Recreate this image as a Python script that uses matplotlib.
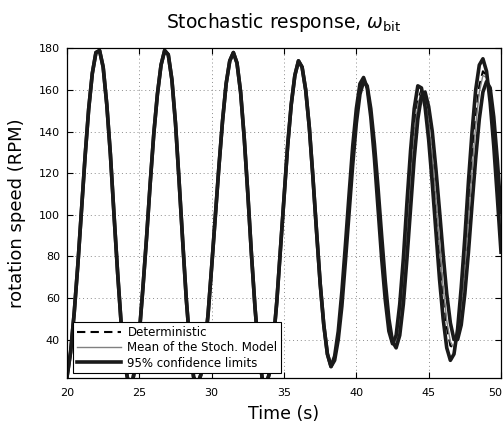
import numpy as np
import matplotlib
matplotlib.use('Agg')
import matplotlib.pyplot as plt
import matplotlib.transforms as mtransforms
from matplotlib.lines import Line2D

plt.rcParams['font.family'] = ['DejaVu Sans']
plt.rcParams['mathtext.fontset'] = 'dejavusans'
plt.rcParams['lines.solid_joinstyle'] = 'round'
plt.rcParams['lines.dash_joinstyle'] = 'round'

# time grid (s) the curves were read at
t_shared = np.arange(20.0, 38.26, 0.25)
t_split = np.arange(38.5, 50.01, 0.25)

# 20 - 38.25 s : all four curves lie on top of each other (RPM)
shared = [22, 34, 53, 76, 102, 128, 151, 168, 178,
          179, 171, 153, 129, 100, 72, 47, 28, 19,
          19, 28, 43, 65, 89, 115, 139, 158, 172, 179,
          177, 165, 144, 116, 87, 59, 37, 22,
          18, 23, 35, 52, 75, 99, 123, 145, 163, 174, 178,
          173, 159, 137, 110, 81, 55, 34, 21,
          18, 24, 38, 58, 83, 108, 133, 153, 167, 174,
          171, 160, 142, 118, 92, 67, 47, 33, 27]

# 38.5 - 50 s : curves separate
conf_a = [32, 44, 63, 86, 110, 133, 151, 163, 166,
          161, 147, 127, 103, 79, 59, 44, 38,
          42, 57, 79, 106, 131, 151, 162, 161,
          152, 136, 115, 92, 69, 50, 36, 30,
          33, 45, 65, 89, 116, 140, 160, 172, 175,
          169, 154, 133, 108, 82]
conf_b = [30, 40, 56, 78, 101, 124, 144, 158, 164,
          162, 151, 134, 113, 90, 68, 50, 39,
          36, 42, 57, 79, 103, 127, 146, 157,
          159, 152, 140, 122, 102, 81, 62, 48,
          40, 40, 47, 62, 82, 105, 127, 146, 159,
          164, 161, 147, 126, 101]
determ = [31, 42, 60, 83, 106, 129, 148, 161, 165,
          161, 149, 130, 107, 83, 63, 46, 38,
          40, 51, 70, 95, 120, 141, 155, 160,
          155, 142, 125, 104, 82, 62, 46, 37,
          36, 43, 58, 78, 102, 126, 147, 162, 169,
          167, 157, 139, 115, 90]
mean_stoch = [31, 42, 59, 82, 105, 128, 147, 160, 165,
              161, 149, 130, 108, 84, 63, 47, 38,
              39, 50, 68, 92, 117, 139, 153, 159,
              155, 144, 127, 107, 85, 65, 49, 39,
              36, 42, 56, 75, 99, 122, 143, 159, 167,
              166, 157, 140, 117, 91]

t = np.concatenate([t_shared, t_split])

fig = plt.figure(figsize=(5.04, 4.23), dpi=100)
ax = fig.add_axes([67 / 504, 1 - 378 / 423, (501 - 67) / 504, (378 - 48.4) / 423])

ax.plot(t, shared + determ, color='black', linestyle=(0, (4, 2.5)), linewidth=1.5)
ax.plot(t, shared + mean_stoch, color='#808080', linewidth=1.0)
ax.plot(t, shared + conf_a, color='#1a1a1a', linewidth=2.6)
ax.plot(t, shared + conf_b, color='#1a1a1a', linewidth=2.6)

ax.set_xlim(20, 50)
ax.set_ylim(21.5, 180)
ax.set_xticks(np.arange(20, 51, 5))
ax.set_yticks(np.arange(40, 181, 20))
ax.grid(True, color='#8c8c8c', linestyle=(0, (1, 3)), linewidth=0.7)
ax.tick_params(direction='in', length=4, top=True, right=True, labelsize=8)
ax.tick_params(axis='x', pad=7)
ax.tick_params(axis='y', pad=5)
for s in ax.spines.values():
    s.set_linewidth(0.9)

# last x label sits on the figure edge; nudge it in so it is not cut
fig.canvas.draw()
last = ax.get_xticklabels()[-1]
last.set_transform(last.get_transform() +
                   mtransforms.ScaledTranslation(-6 / 100, 0, fig.dpi_scale_trans))

ax.set_xlabel('Time (s)', fontsize=12.5, labelpad=5)
ax.set_ylabel('rotation speed (RPM)', fontsize=13, labelpad=9)
ax.set_title(r'Stochastic response, $\omega_{\mathrm{bit}}$', fontsize=13.5, pad=15)

handles = [Line2D([], [], color='black', linestyle=(0, (4, 2.5)), linewidth=1.5),
           Line2D([], [], color='#808080', linewidth=1.0),
           Line2D([], [], color='#1a1a1a', linewidth=2.6)]
labels = ['Deterministic', 'Mean of the Stoch. Model', '95% confidence limits']
leg = ax.legend(handles, labels, loc='lower left', bbox_to_anchor=(0.014, 0.015),
                borderaxespad=0, fontsize=8.5, handlelength=3.8, handletextpad=0.5,
                borderpad=0.3, labelspacing=0.2, fancybox=False, framealpha=1)
leg.get_frame().set_edgecolor('black')
leg.get_frame().set_linewidth(0.8)

fig.savefig('out.png', dpi=100)
